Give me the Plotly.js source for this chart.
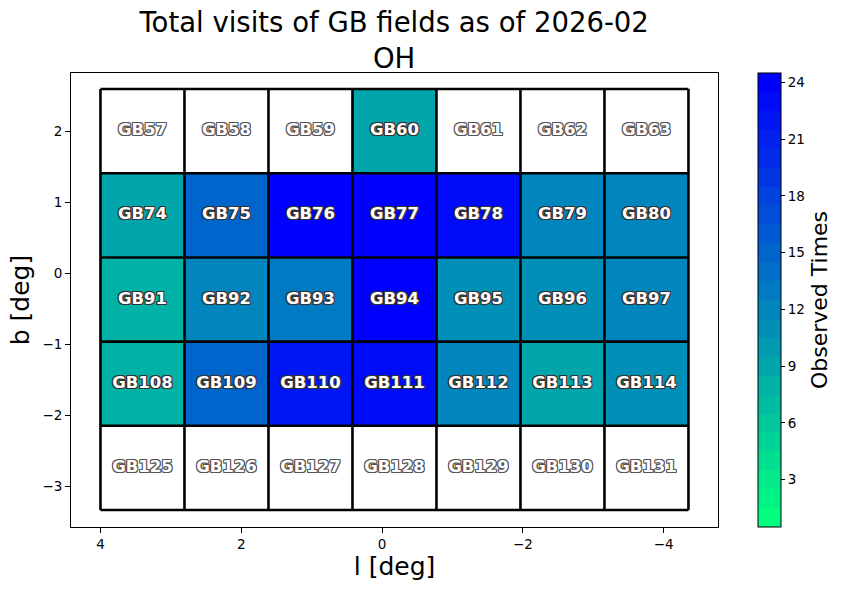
<!DOCTYPE html>
<html>
<head>
<meta charset="utf-8">
<script src="https://cdn.plot.ly/plotly-3.0.1.min.js"></script>
<style>html,body{margin:0;padding:0;background:#fff;}#chart{width:844px;height:590px;}</style>
</head>
<body>
<div id="chart"></div>
<script>
// Field centres (galactic l, b in degrees)
const lCenters = [3.403, 2.210, 1.017, -0.176, -1.369, -2.562, -3.755];
const bCenters = [2.009, 0.822, -0.366, -1.553, -2.740];

// Field names, one array per row (top to bottom)
const namesRow1 = ["GB57", "GB58", "GB59", "GB60", "GB61", "GB62", "GB63"];
const namesRow2 = ["GB74", "GB75", "GB76", "GB77", "GB78", "GB79", "GB80"];
const namesRow3 = ["GB91", "GB92", "GB93", "GB94", "GB95", "GB96", "GB97"];
const namesRow4 = ["GB108", "GB109", "GB110", "GB111", "GB112", "GB113", "GB114"];
const namesRow5 = ["GB125", "GB126", "GB127", "GB128", "GB129", "GB130", "GB131"];

// Observed times (null = not observed)
const visitsRow1 = [null, null, null, 9, null, null, null];
const visitsRow2 = [9, 15, 24, 24, 23, 12, 12];
const visitsRow3 = [8, 12, 13, 24, 11, 11, 12];
const visitsRow4 = [8, 15, 22, 23, 12, 9, 11];
const visitsRow5 = [null, null, null, null, null, null, null];

const colorbarTicks = [3, 6, 9, 12, 15, 18, 21, 24];
const xTicks = [4, 2, 0, -2, -4];
const yTicks = [-3, -2, -1, 0, 1, 2];

const names = [namesRow1, namesRow2, namesRow3, namesRow4, namesRow5];
const visits = [visitsRow1, visitsRow2, visitsRow3, visitsRow4, visitsRow5];

// discrete reversed "winter" colormap with 24 levels (0.5 .. 24.5)
const nLev = 24, vmin = 0.5, vmax = 24.5;
const colorscale = [];
for (let i = 0; i < nLev; i++) {
  const t = i / (nLev - 1);
  const g = Math.round(255 * (1 - t));
  const b = Math.round(255 * (0.5 + 0.5 * t));
  const c = `rgb(0,${g},${b})`;
  colorscale.push([i / nLev, c]);
  colorscale.push([(i + 1) / nLev, c]);
}

// heatmap (ascending order)
const xs = lCenters.slice().reverse();
const ys = bCenters.slice().reverse();
const z = visits.slice().reverse().map(r => r.slice().reverse());

const heat = {
  type: 'heatmap', x: xs, y: ys, z: z,
  zmin: vmin, zmax: vmax, colorscale: colorscale, zsmooth: false,
  hoverinfo: 'skip',
  colorbar: {
    thickness: 23, thicknessmode: 'pixels', len: 1, lenmode: 'fraction',
    x: 1.0618, xanchor: 'left', xpad: 0, y: 0.5, yanchor: 'middle', ypad: 0,
    outlinewidth: 1, outlinecolor: '#000',
    tickvals: colorbarTicks, ticks: 'outside', ticklen: 4, tickwidth: 1, tickcolor: '#000',
    tickfont: {family: 'DejaVu Sans', size: 13.5, color: '#000'},
    title: {text: 'Observed Times', side: 'right', font: {family: 'DejaVu Sans', size: 22, color: '#000'}}
  }
};

// cell borders
const dl = Math.abs(lCenters[0] - lCenters[1]);
const db = Math.abs(bCenters[0] - bCenters[1]);
const lEdges = lCenters.map(v => v + dl / 2).concat([lCenters[lCenters.length - 1] - dl / 2]);
const bEdges = bCenters.map(v => v + db / 2).concat([bCenters[bCenters.length - 1] - db / 2]);
const lx = [], ly = [];
const bTop = bEdges[0], bBot = bEdges[bEdges.length - 1];
const lLeft = lEdges[0], lRight = lEdges[lEdges.length - 1];
lEdges.forEach(e => { lx.push(e, e, null); ly.push(bBot, bTop, null); });
bEdges.forEach(e => { lx.push(lLeft, lRight, null); ly.push(e, e, null); });
const borders = {
  type: 'scatter', mode: 'lines', x: lx, y: ly,
  line: {color: '#000', width: 2.6}, hoverinfo: 'skip', showlegend: false
};

// labels
const tvX = [], tvY = [], tvT = [], tuX = [], tuY = [], tuT = [];
names.forEach((row, i) => row.forEach((n, j) => {
  if (visits[i][j] !== null) { tvX.push(lCenters[j]); tvY.push(bCenters[i]); tvT.push(n); }
  else { tuX.push(lCenters[j]); tuY.push(bCenters[i]); tuT.push(n); }
}));
function outline(c) {
  return `1px 0 0 ${c}, -1px 0 0 ${c}, 0 1px 0 ${c}, 0 -1px 0 ${c}, 1px 1px 0 ${c}, -1px -1px 0 ${c}, 1px -1px 0 ${c}, -1px 1px 0 ${c}`;
}
const labVisited = {
  type: 'scatter', mode: 'text', x: tvX, y: tvY, text: tvT,
  textfont: {family: 'DejaVu Sans', size: 16.5, color: '#fff', weight: 'bold', shadow: outline('#333')},
  hoverinfo: 'skip', showlegend: false
};
const labUnvisited = {
  type: 'scatter', mode: 'text', x: tuX, y: tuY, text: tuT,
  textfont: {family: 'DejaVu Sans', size: 16.5, color: '#fff', weight: 'bold', shadow: outline('#555')},
  hoverinfo: 'skip', showlegend: false
};

const axisCommon = {
  showgrid: false, zeroline: false, showline: true, mirror: true,
  linecolor: '#000', linewidth: 1, ticks: 'outside', ticklen: 5, tickwidth: 1, tickcolor: '#000',
  tickfont: {family: 'DejaVu Sans', size: 13.5, color: '#000'}
};

const layout = {
  width: 844, height: 590,
  margin: {l: 71, r: 126, t: 73, b: 63},
  paper_bgcolor: '#fff', plot_bgcolor: '#fff',
  showlegend: false,
  font: {family: 'DejaVu Sans', color: '#000'},
  title: {
    text: 'Total visits of GB fields as of 2026-02<br>OH',
    font: {family: 'DejaVu Sans', size: 27.5, color: '#000'},
    x: 0.467, xref: 'container', xanchor: 'center', y: 0.946, yref: 'container', yanchor: 'top'
  },
  xaxis: Object.assign({}, axisCommon, {
    range: [4.418, -4.771], tickvals: xTicks,
    title: {text: 'l [deg]', font: {family: 'DejaVu Sans', size: 25, color: '#000'}, standoff: 6}
  }),
  yaxis: Object.assign({}, axisCommon, {
    range: [-3.573, 2.828], tickvals: yTicks,
    title: {text: 'b [deg]', font: {family: 'DejaVu Sans', size: 25, color: '#000'}, standoff: 5}
  })
};

Plotly.newPlot('chart', [heat, borders, labVisited, labUnvisited], layout, {displayModeBar: false, staticPlot: true});
</script>
</body>
</html>
